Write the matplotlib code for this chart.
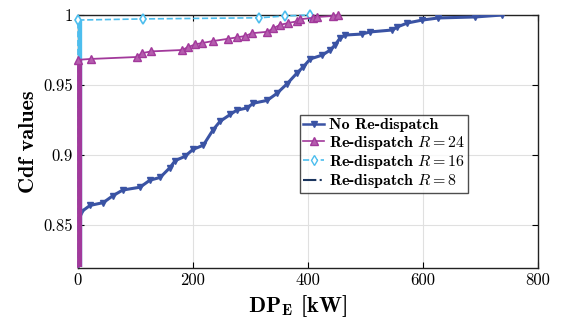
import numpy as np
import matplotlib
matplotlib.use("Agg")
import matplotlib.pyplot as plt
from matplotlib.lines import Line2D

plt.rcParams["font.family"] = "cmr10"
plt.rcParams["mathtext.fontset"] = "cm"
plt.rcParams["axes.formatter.use_mathtext"] = True

no_redisp_x = [0, 0, 6, 21, 44, 61, 78, 108, 125, 143, 160, 169, 186, 200, 218, 235, 247,
               265, 276, 294, 305, 329, 346, 364, 381, 392, 404, 425, 439, 447, 456, 465,
               494, 508, 547, 555, 573, 599, 627, 691, 738]
no_redisp_y = [0.82, 0.8586, 0.8595, 0.864, 0.866, 0.871, 0.875, 0.877, 0.882, 0.884, 0.891,
               0.896, 0.899, 0.904, 0.907, 0.918, 0.924, 0.929, 0.932, 0.9336, 0.937, 0.939,
               0.944, 0.951, 0.9586, 0.963, 0.9686, 0.9714, 0.975, 0.9786, 0.9836, 0.9857,
               0.9864, 0.9879, 0.9893, 0.9914, 0.9943, 0.9964, 0.9979, 0.9986, 1.0]

r24_x = [0, 0, 22, 102, 111, 127, 181, 191, 204, 216, 235, 261, 276, 291, 303, 329, 340,
         351, 366, 381, 387, 409, 416, 444, 453]
r24_y = [0.82, 0.968, 0.9686, 0.970, 0.9727, 0.974, 0.975, 0.977, 0.979, 0.980, 0.9814,
         0.983, 0.984, 0.985, 0.987, 0.988, 0.9905, 0.9929, 0.9943, 0.9955, 0.997, 0.998,
         0.9986, 0.9993, 1.0]

r16_x = [0, 0, 113, 315, 360, 404]
r16_y = [0.82, 0.9964, 0.9972, 0.998, 0.9993, 1.0]

r8_x = [0, 0]
r8_y = [0.82, 1.0]

c_blue = "#3A53A4"
c_mag = "#A2399B"
c_cyan = "#4DBEEE"
c_navy = "#1B355E"

fig = plt.figure(figsize=(5.63, 3.29), dpi=100)
ax = fig.add_axes([0.1385, 0.1854, 0.817, 0.769])


def zero_bar(x, y, color, z):
    x = np.array(x)
    y = np.array(y)
    m = x == 0
    ax.plot(x[m], y[m], color=color, lw=6, solid_capstyle="butt", zorder=z)


ax.plot(r8_x, r8_y, color=c_navy, ls="-.", lw=1.5, zorder=2)
ax.plot(no_redisp_x, no_redisp_y, color=c_blue, lw=2.2, marker="v", ms=4.5,
        mfc=c_blue, mec=c_blue, markevery=list(range(1, len(no_redisp_x))), zorder=3)
zero_bar(r16_x, r16_y, c_cyan, 4)
ax.plot(r16_x, r16_y, color=c_cyan, ls="--", lw=1.2, marker="d", ms=5,
        mfc="white", mec=c_cyan, mew=1.2, markevery=list(range(1, len(r16_x))),
        zorder=4, clip_on=False)
zero_bar(r24_x, r24_y, c_mag, 5)
ax.plot(r24_x, r24_y, color=c_mag, lw=1.3, marker="^", ms=5.5,
        mfc="#B55DAE", mec=c_mag, markevery=list(range(1, len(r24_x))),
        zorder=5, clip_on=False)

ax.set_xlim(0, 800)
ax.set_ylim(0.8193, 1.0)
ax.set_xticks([0, 200, 400, 600, 800])
ax.set_xticklabels(["0", "200", "400", "600", "800"])
ax.set_yticks([0.85, 0.9, 0.95, 1.0])
ax.set_yticklabels(["0.85", "0.9", "0.95", "1"])
ax.tick_params(direction="in", top=True, right=True, labelsize=12, length=4, width=0.8)
ax.grid(True, color="#E0E0E0", lw=0.8)
ax.set_axisbelow(True)
for s in ax.spines.values():
    s.set_linewidth(1.0)
    s.set_color("#222222")

ax.set_xlabel(r"$\mathbf{DP_E}$ [kW]", fontsize=16, family="cmb10", labelpad=3)
ax.xaxis.set_label_coords(0.478, -0.1)
ax.set_ylabel("Cdf values", fontsize=16, family="cmb10", labelpad=4)

handles = [
    Line2D([], [], color=c_blue, lw=1.8, marker="v", ms=4),
    Line2D([], [], color=c_mag, lw=1.2, marker="^", ms=5.5, mfc="#B55DAE", mec=c_mag),
    Line2D([], [], color=c_cyan, ls="--", lw=1.2, marker="d", ms=5, mfc="white"),
    Line2D([], [], color=c_navy, ls="-.", lw=1.5),
]
labels = ["No Re-dispatch", r"Re-dispatch $R = 24$", r"Re-dispatch $R = 16$",
          r"Re-dispatch $R = 8$"]
leg = ax.legend(handles, labels, loc="upper left", bbox_to_anchor=(0.483, 0.605),
                prop={"family": "cmb10", "size": 11.5}, frameon=True, fancybox=False,
                edgecolor="#222222", handlelength=1.3, handletextpad=0.3,
                borderpad=0.2, labelspacing=0.08, borderaxespad=0)
leg.get_frame().set_linewidth(1.0)

fig.savefig("out.png", dpi=100)
